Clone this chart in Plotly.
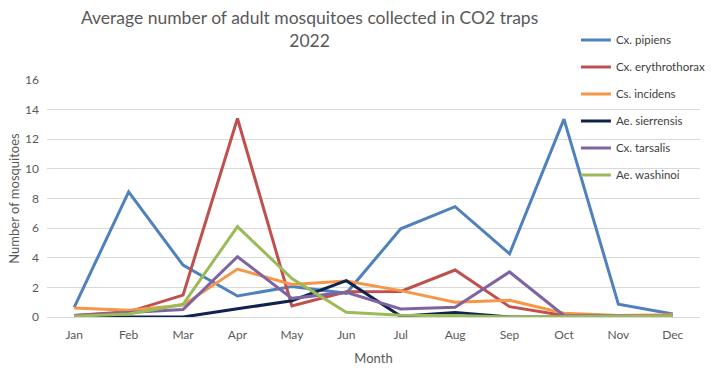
import plotly.graph_objects as go

months = ["Jan", "Feb", "Mar", "Apr", "May", "Jun", "Jul", "Aug", "Sep", "Oct", "Nov", "Dec"]

cx_pipiens = [0.65, 8.45, 3.5, 1.42, 2.05, 1.6, 5.95, 7.45, 4.27, 13.36, 0.86, 0.2]
cx_erythrothorax = [0.1, 0.35, 1.48, 13.4, 0.75, 1.7, 1.72, 3.17, 0.7, 0.1, 0.05, 0.05]
cs_incidens = [0.6, 0.45, 0.8, 3.24, 2.2, 2.43, 1.78, 1.0, 1.13, 0.25, 0.1, 0.15]
ae_sierrensis = [0.0, 0.0, 0.0, 0.55, 1.1, 2.45, 0.05, 0.3, 0.0, 0.0, 0.0, 0.0]
cx_tarsalis = [0.1, 0.3, 0.5, 4.07, 1.26, 1.67, 0.54, 0.65, 3.04, 0.1, 0.05, 0.05]
ae_washinoi = [0.05, 0.2, 0.86, 6.1, 2.6, 0.32, 0.12, 0.1, 0.0, 0.05, 0.05, 0.05]

series = [
    ("Cx. pipiens", cx_pipiens, "#4F81BD"),
    ("Cx. erythrothorax", cx_erythrothorax, "#C0504D"),
    ("Cs. incidens", cs_incidens, "#F79646"),
    ("Ae. sierrensis", ae_sierrensis, "#0F2350"),
    ("Cx. tarsalis", cx_tarsalis, "#8064A2"),
    ("Ae. washinoi", ae_washinoi, "#9BBB59"),
]

fig = go.Figure()
for i, (name, vals, color) in enumerate(series):
    fig.add_trace(go.Scatter(
        x=months, y=vals, name=name, mode="lines",
        line=dict(color=color, width=3),
        legendgroup=f"g{i}",
    ))

font_family = "Lato, 'Open Sans', sans-serif"
fig.update_layout(
    width=720, height=372,
    margin=dict(l=47, r=20, t=80, b=55, autoexpand=False),
    paper_bgcolor="white", plot_bgcolor="white",
    font=dict(family=font_family, color="#595959", size=12),
    title=dict(
        text="Average number of adult mosquitoes collected in CO2 traps<br>2022",
        x=0.43, xanchor="center", y=0.936, yanchor="bottom",
        font=dict(size=17.5, color="#595959", family=font_family),
    ),
    legend=dict(
        x=0.81, y=1.23, xanchor="left", yanchor="top",
        bgcolor="rgba(255,255,255,0)",
        font=dict(size=11.5, color="#404040"),
        tracegroupgap=8,
    ),
    xaxis=dict(
        type="category", range=[-0.5, 11.5], showgrid=False, zeroline=False,
        showline=False, ticks="", automargin=False,
        tickfont=dict(size=12, color="#595959"),
        ticklabelstandoff=9,
        title=dict(text="Month", font=dict(size=13, color="#595959"), standoff=12),
    ),
    yaxis=dict(
        range=[0, 16], dtick=2, tick0=0, automargin=False,
        showgrid=True, gridcolor="#D9D9D9", gridwidth=1,
        zeroline=True, zerolinecolor="#D9D9D9", zerolinewidth=1,
        ticks="", tickfont=dict(size=12, color="#595959"),
        ticklabelstandoff=7,
        title=dict(text="Number of mosquitoes", font=dict(size=13, color="#595959"), standoff=2),
    ),
)

fig.write_html("out.html", config={"displayModeBar": False},
               post_script="document.body.style.margin='0';")
